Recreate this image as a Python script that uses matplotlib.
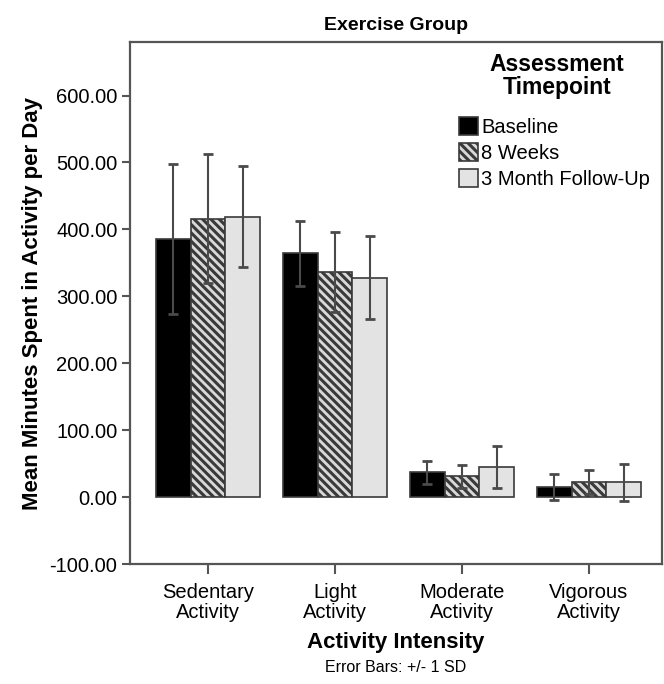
import numpy as np
import matplotlib
matplotlib.use("Agg")
import matplotlib.pyplot as plt
from matplotlib.ticker import FormatStrFormatter

plt.rcParams["font.family"] = ["Liberation Sans", "DejaVu Sans"]
plt.rcParams["axes.unicode_minus"] = False
plt.rcParams["hatch.linewidth"] = 2.2
plt.rcParams["hatch.color"] = "black"

categories = ["Sedentary\nActivity", "Light\nActivity", "Moderate\nActivity", "Vigorous\nActivity"]
series = ["Baseline", "8 Weeks", "3 Month Follow-Up"]
baseline = [386, 364, 37, 15]
baseline_sd = [112, 48, 17, 19]
weeks8 = [416, 336, 31, 22]
weeks8_sd = [96, 60, 17, 18]
followup = [419, 328, 45, 22]
followup_sd = [75, 62, 31, 28]

means = [baseline, weeks8, followup]
sds = [baseline_sd, weeks8_sd, followup_sd]
fills = ["black", "#d9d9d9", "#e3e3e3"]
hatches = [None, "\\\\\\\\", None]

fig = plt.figure(figsize=(6.64, 6.84), dpi=100)
ax = fig.add_axes([130 / 664, 120 / 684, 532 / 664, 522 / 684])

x = np.arange(len(categories))
w = 0.272
for i in range(3):
    pos = x + (i - 1) * w
    ax.bar(pos, means[i], width=w, color=fills[i], hatch=hatches[i],
           edgecolor="#3a3a3a", linewidth=1.2, label=series[i], zorder=2)
    ax.errorbar(pos, means[i], yerr=sds[i], fmt="none", ecolor="#4a4a4a",
                elinewidth=1.5, capsize=3.5, capthick=2, zorder=3)

ax.set_xlim(-0.614, 3.575)
ax.set_ylim(-100, 680)
ax.set_yticks(np.arange(-100, 601, 100))
ax.yaxis.set_major_formatter(FormatStrFormatter("%.2f"))
ax.set_xticks(x)
ax.set_xticklabels(categories, fontsize=14.5, linespacing=1.05)
ax.tick_params(axis="y", labelsize=14.5, length=6, width=1.5, color="#555555", pad=3)
ax.tick_params(axis="x", length=7, width=1.5, color="#555555", pad=7)
for s in ax.spines.values():
    s.set_color("#555555")
    s.set_linewidth(1.6)

ax.set_ylabel("Mean Minutes Spent in Activity per Day", fontsize=16,
              fontweight="bold", labelpad=5)
ax.set_xlabel("Activity Intensity", fontsize=16, fontweight="bold", labelpad=7)
fig.text(396 / 664, 1 - 668 / 684, "Error Bars: +/- 1 SD", fontsize=11.5,
         ha="center", va="center")
fig.text(396 / 664, 1 - 25 / 684, "Exercise Group", fontsize=14,
         fontweight="bold", ha="center", va="center")

# legend title drawn separately so the gap to the entries matches
fig.text(557 / 664, 1 - 76 / 684, "Assessment\nTimepoint", fontsize=16.5,
         fontweight="bold", ha="center", va="center", linespacing=0.95)
leg = ax.legend(loc="upper left", bbox_to_anchor=(449 / 664, 1 - 107 / 684),
                bbox_transform=fig.transFigure, frameon=False, fontsize=14.5,
                handlelength=0.95, handleheight=1.0, handletextpad=0.15,
                labelspacing=0.3, borderpad=0)

fig.savefig("out.png", dpi=100)
